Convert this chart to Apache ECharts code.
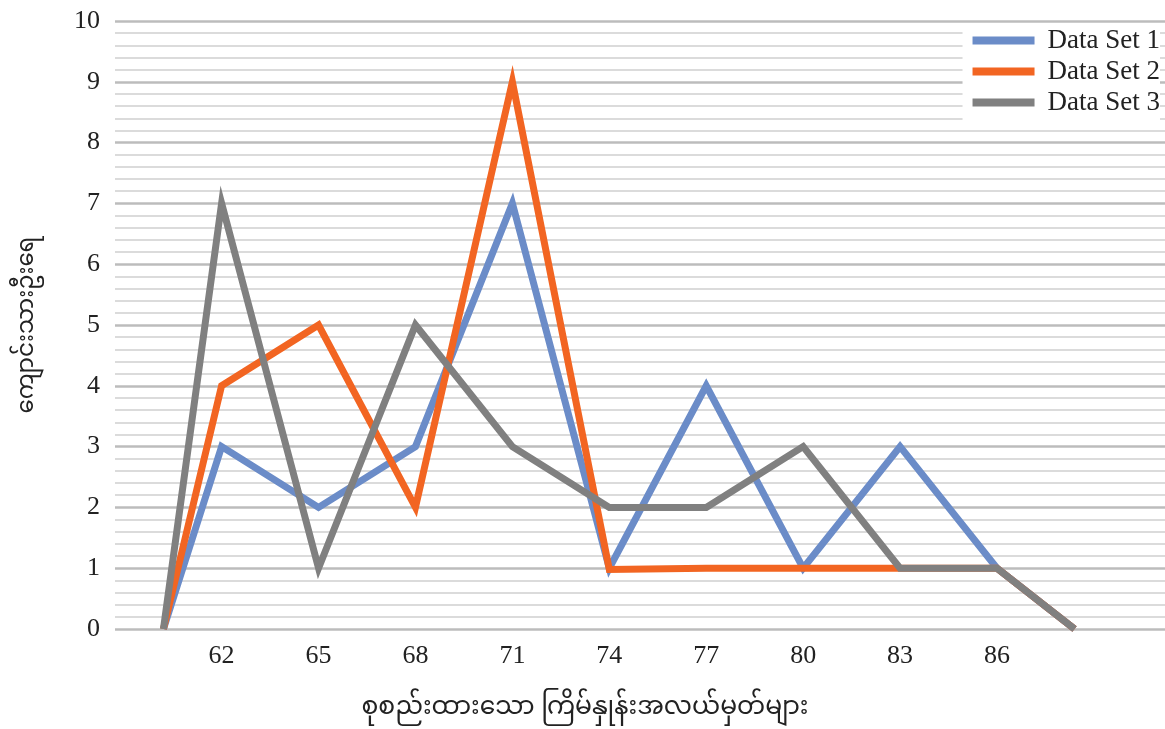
<!DOCTYPE html>
<html>
<head>
<meta charset="utf-8">
<script src="https://cdn.jsdelivr.net/npm/echarts@6/dist/echarts.min.js"></script>
<style>html,body{margin:0;padding:0;background:#fff;}#c{width:1165px;height:729px;}</style>
</head>
<body>
<div id="c"></div>
<script>
const xValues = [60.2, 62, 65, 68, 71, 74, 77, 80, 83, 86, 88.4];
const tickLabels = [62, 65, 68, 71, 74, 77, 80, 83, 86];
const dataSet1 = [0, 3, 2, 3, 7, 1, 4, 1, 3, 1, 0];
const dataSet2 = [0, 4, 5, 2, 9, 0.98, 1, 1, 1, 1, 0];
const dataSet3 = [0, 7, 1, 5, 3, 2, 2, 3, 1, 1, 0];
const seriesNames = ['Data Set 1', 'Data Set 2', 'Data Set 3'];
const colors = ['#6b8cc8', '#f26522', '#808080'];
const xTitle = 'စုစည်းထားသော ကြိမ်နှုန်းအလယ်မှတ်များ';
const yTitle = 'ကျောင်းသားဦးရေ';

const pair = arr => arr.map((v, i) => [xValues[i], v]);
const chart = echarts.init(document.getElementById('c'));
const serif = '"Liberation Serif", "Times New Roman", serif';
const myan = '"Noto Sans Myanmar", "Noto Sans", sans-serif';
chart.setOption({
  animation: false,
  backgroundColor: '#fff',
  grid: { left: 115, right: 0, top: 21, bottom: 97 },
  legend: {
    orient: 'vertical', right: 5, top: 25,
    itemWidth: 62, itemHeight: 8, itemGap: 4,
    icon: 'rect',
    backgroundColor: '#fff',
    padding: [2, 0, 10, 10],
    textStyle: { fontFamily: serif, fontSize: 27, lineHeight: 27, color: '#222', padding: [0, 0, 0, 8] },
    data: seriesNames
  },
  xAxis: {
    type: 'value', min: 58.7, max: 91.2,
    axisLine: { show: false }, axisTick: { show: false }, splitLine: { show: false },
    axisLabel: { customValues: tickLabels, fontFamily: serif, fontSize: 26, color: '#222', margin: 14 },
    name: xTitle, nameLocation: 'middle', nameGap: 70,
    nameTextStyle: { fontFamily: myan, fontSize: 25, color: '#222', padding: [0, 110, 0, 0] }
  },
  yAxis: {
    type: 'value', min: 0, max: 10, interval: 1,
    axisLine: { show: false }, axisTick: { show: false },
    axisLabel: { fontFamily: serif, fontSize: 26, color: '#222', margin: 15 },
    splitLine: { lineStyle: { color: '#bcbcbc', width: 2.5 } },
    minorTick: { show: false, splitNumber: 5 },
    minorSplitLine: { show: true, lineStyle: { color: '#cfcfcf', width: 1.5 } },
    name: yTitle, nameLocation: 'middle', nameGap: 73, nameRotate: 90,
    nameTextStyle: { fontFamily: myan, fontSize: 23, color: '#222' }
  },
  series: [dataSet1, dataSet2, dataSet3].map((d, i) => ({
    name: seriesNames[i], type: 'line', data: pair(d),
    showSymbol: false, symbol: 'none',
    color: colors[i],
    lineStyle: { color: colors[i], width: 7, cap: 'butt', join: 'miter' },
    z: 2 + i
  }))
});
</script>
</body>
</html>
